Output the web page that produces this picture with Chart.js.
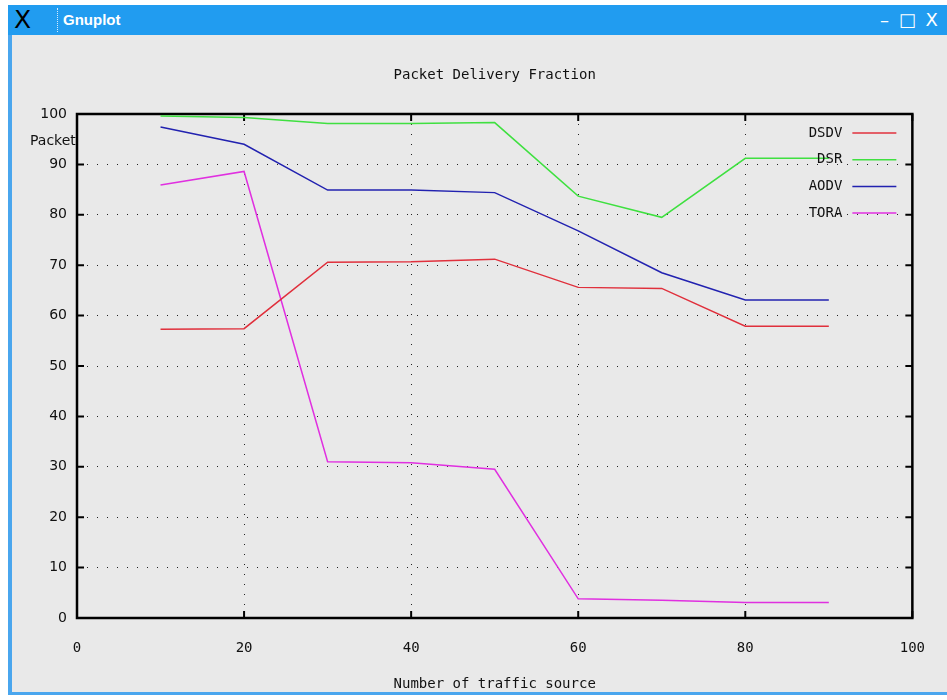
<!DOCTYPE html>
<html>
<head>
<meta charset="utf-8">
<script src="https://cdn.jsdelivr.net/npm/chart.js@4/dist/chart.umd.min.js"></script>
<style>
  html, body { margin: 0; padding: 0; background: #ffffff; width: 947px; height: 700px; overflow: hidden; }
  #win { position: absolute; left: 8px; top: 5px; width: 945px; height: 690px; background: #e9e9e9;
         border-left: 4px solid #4aa6ee; border-bottom: 3px solid #4aa6ee; box-sizing: border-box; }
  #bar { position: absolute; left: 8px; top: 5px; width: 945px; height: 30px; background: #219cf0; }
  #xlogo { position: absolute; left: 6px; top: 0px; font: 25px "DejaVu Sans", sans-serif; color: #000; line-height: 30px; }
  #sep { position: absolute; left: 49px; top: 3px; height: 24px; border-left: 1px dotted #d8ecff; }
  #btitle { position: absolute; left: 55px; top: 0; font: bold 15px "Liberation Sans", sans-serif; color: #fff; line-height: 30px; }
  #btns { position: absolute; left: 872px; top: 0; font: 18px "DejaVu Sans", sans-serif; color: #fff; line-height: 30px; white-space: nowrap; letter-spacing: 2px; }
  #c { position: absolute; left: 0; top: 0; }
</style>
</head>
<body>
<div id="win"></div>
<div id="bar">
  <div id="xlogo">X</div>
  <div id="sep"></div>
  <div id="btitle">Gnuplot</div>
  <div id="btns">– □ X</div>
</div>
<canvas id="c" width="947" height="700"></canvas>
<script>
// ---- data ----
const chartTitle = "Packet Delivery Fraction";
const xAxisTitle = "Number of traffic source";
const yAxisTitle = "Packet";
const sources = [10, 20, 30, 40, 50, 60, 70, 80, 90];
const seriesNames = ["DSDV", "DSR", "AODV", "TORA"];
const dsdv = [57.3, 57.4, 70.6, 70.7, 71.2, 65.6, 65.4, 57.9, 57.9];
const dsr  = [99.6, 99.3, 98.1, 98.1, 98.3, 83.7, 79.5, 91.2, 91.2];
const aodv = [97.4, 94.0, 84.9, 84.9, 84.4, 76.8, 68.5, 63.1, 63.1];
const tora = [85.9, 88.6, 31.0, 30.8, 29.5, 3.8, 3.5, 3.1, 3.1];
const xTicks = [0, 20, 40, 60, 80, 100];
const yTicks = [0, 10, 20, 30, 40, 50, 60, 70, 80, 90, 100];

const colors = ["#e0303c", "#3fe040", "#2222b0", "#e030e0"];
const allSeries = [dsdv, dsr, aodv, tora];

const MONO = '"DejaVu Sans Mono", "Liberation Mono", monospace';
const SANS = '"DejaVu Sans", sans-serif';

const datasets = allSeries.map((vals, i) => ({
  label: seriesNames[i],
  data: sources.map((x, j) => ({ x: x, y: vals[j] })),
  borderColor: colors[i],
  backgroundColor: colors[i],
  borderWidth: 1.5,
  pointRadius: 0,
  tension: 0,
  fill: false
}));

const gnuplotDecor = {
  id: 'gnuplotDecor',
  beforeDatasetsDraw(chart) {
    const { ctx, chartArea: a, scales: { x, y } } = chart;
    ctx.save();
    ctx.strokeStyle = '#000';
    ctx.lineWidth = 2.5;
    ctx.strokeRect(a.left, a.top, a.right - a.left, a.bottom - a.top);
    const tl = 7;
    ctx.lineWidth = 2;
    ctx.beginPath();
    xTicks.forEach(v => {
      const px = x.getPixelForValue(v);
      ctx.moveTo(px, a.bottom); ctx.lineTo(px, a.bottom - tl);
      ctx.moveTo(px, a.top); ctx.lineTo(px, a.top + tl);
    });
    yTicks.forEach(v => {
      const py = y.getPixelForValue(v);
      ctx.moveTo(a.left, py); ctx.lineTo(a.left + tl, py);
      ctx.moveTo(a.right, py); ctx.lineTo(a.right - tl, py);
    });
    ctx.stroke();
    ctx.restore();
  },
  afterDraw(chart) {
    const { ctx, chartArea: a } = chart;
    ctx.save();
    ctx.fillStyle = '#111';
    ctx.textBaseline = 'middle';
    // title
    ctx.font = '14px ' + MONO;
    ctx.textAlign = 'center';
    ctx.fillText(chartTitle, (a.left + a.right) / 2, 75);
    // x axis title
    ctx.fillText(xAxisTitle, (a.left + a.right) / 2, 684);
    // y axis title
    ctx.font = '14px ' + SANS;
    ctx.textAlign = 'left';
    ctx.fillText(yAxisTitle, 30, 141);
    // legend
    ctx.font = '14px ' + MONO;
    ctx.textAlign = 'right';
    chart.data.datasets.forEach((ds, i) => {
      const yy = a.top + 19 + i * 26.7;
      ctx.fillStyle = '#111';
      ctx.fillText(ds.label, a.right - 70, yy);
      ctx.strokeStyle = ds.borderColor;
      ctx.lineWidth = 1.5;
      ctx.beginPath();
      ctx.moveTo(a.right - 60, yy);
      ctx.lineTo(a.right - 16, yy);
      ctx.stroke();
    });
    ctx.restore();
  }
};

new Chart(document.getElementById('c'), {
  type: 'line',
  data: { datasets: datasets },
  plugins: [gnuplotDecor],
  options: {
    responsive: false,
    animation: false,
    devicePixelRatio: 1,
    layout: { padding: { left: 20, right: 32, top: 114, bottom: 22 } },
    plugins: { legend: { display: false }, title: { display: false }, tooltip: { enabled: false } },
    scales: {
      x: {
        type: 'linear', min: 0, max: 100,
        afterFit(s) { s.height = 60; },
        afterBuildTicks(s) { s.ticks = xTicks.map(v => ({ value: v })); },
        ticks: { font: { family: MONO, size: 14 }, color: '#111', padding: 22, maxRotation: 0 },
        grid: { color: '#222', lineWidth: 1, drawTicks: false },
        border: { display: false, dash: [1, 9] }
      },
      y: {
        type: 'linear', min: 0, max: 100,
        afterFit(s) { s.width = 57; },
        afterBuildTicks(s) { s.ticks = yTicks.map(v => ({ value: v })); },
        ticks: { font: { family: SANS, size: 14 }, color: '#111', padding: 10 },
        grid: { color: '#222', lineWidth: 1, drawTicks: false },
        border: { display: false, dash: [1, 9] }
      }
    }
  }
});
</script>
</body>
</html>
